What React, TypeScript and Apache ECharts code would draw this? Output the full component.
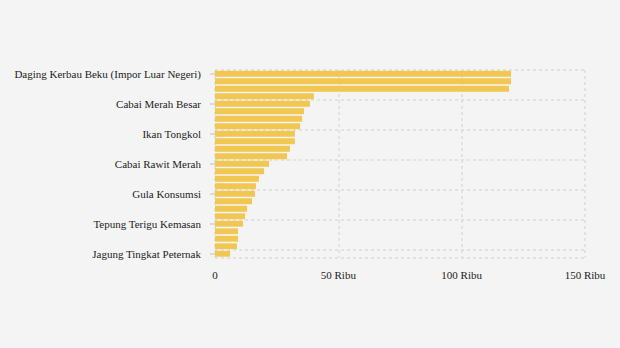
import React, { useEffect, useRef } from "react";
import * as echarts from "echarts";

const categories: string[] = [
  "Daging Kerbau Beku (Impor Luar Negeri)",
  "Daging Sapi Murni",
  "Daging Kerbau Segar (Lokal)",
  "Ikan Bandeng",
  "Cabai Merah Besar",
  "Cabai Merah Keriting",
  "Daging Ayam Ras",
  "Ikan Kembung",
  "Ikan Tongkol",
  "Bawang Putih Bonggol",
  "Cabai Rawit Hijau",
  "Telur Ayam Ras",
  "Cabai Rawit Merah",
  "Bawang Merah",
  "Minyak Goreng Kemasan",
  "Minyak Goreng Curah",
  "Gula Konsumsi",
  "Beras Premium",
  "Kedelai Biji Kering (Impor)",
  "Beras Medium",
  "Tepung Terigu Kemasan",
  "Tepung Terigu (Curah)",
  "Beras SPHP",
  "Garam Konsumsi",
  "Jagung Tingkat Peternak",
];

const values: number[] = [
  120000, 120000, 119200, 40100, 38500, 36100, 35300, 34500, 32400, 32400,
  30400, 29200, 21900, 19900, 17800, 16600, 16200, 15000, 13000, 12200,
  11400, 9300, 9300, 8900, 6100,
];

const xTicks: number[] = [0, 50000, 100000, 150000];
const xTickLabels: string[] = ["0", "50 Ribu", "100 Ribu", "150 Ribu"];

export default function App() {
  const ref = useRef<HTMLDivElement>(null);
  useEffect(() => {
    document.body.style.margin = "0";
    const chart = echarts.init(ref.current!, null, { renderer: "svg" });
    const font = "Liberation Serif, Times New Roman, serif";
    chart.setOption({
      animation: false,
      backgroundColor: "#f4f4f4",
      grid: { left: 215, right: 35, top: 70, bottom: 90.5, containLabel: false },
      xAxis: {
        type: "value",
        min: xTicks[0],
        max: xTicks[xTicks.length - 1],
        interval: 50000,
        axisLine: { show: false },
        axisTick: { show: false },
        axisLabel: {
          margin: 12,
          color: "#222",
          fontFamily: font,
          fontSize: 11,
          formatter: (v: number) => {
            const i = xTicks.indexOf(v);
            return i >= 0 ? xTickLabels[i] : "";
          },
        },
        splitLine: {
          show: true,
          lineStyle: { color: "#dcdcdc", width: 1.5, type: [3, 3] },
        },
      },
      yAxis: {
        type: "category",
        inverse: true,
        data: categories,
        axisLine: { show: false },
        axisTick: {
          show: true,
          alignWithLabel: true,
          interval: 3,
          length: 5,
          lineStyle: { color: "#d0d0d0", width: 1.5 },
        },
        axisLabel: {
          interval: 3,
          margin: 14,
          color: "#222",
          fontFamily: font,
          fontSize: 11,
        },
        splitLine: {
          show: true,
          interval: 3,
          lineStyle: { color: "#dcdcdc", width: 1.5, type: [3, 3] },
        },
      },
      series: [
        {
          type: "bar",
          data: values,
          barCategoryGap: "22%",
          itemStyle: { color: "#f1c752" },
        },
      ],
    });
    return () => chart.dispose();
  }, []);
  return <div ref={ref} style={{ width: 620, height: 348 }} />;
}
